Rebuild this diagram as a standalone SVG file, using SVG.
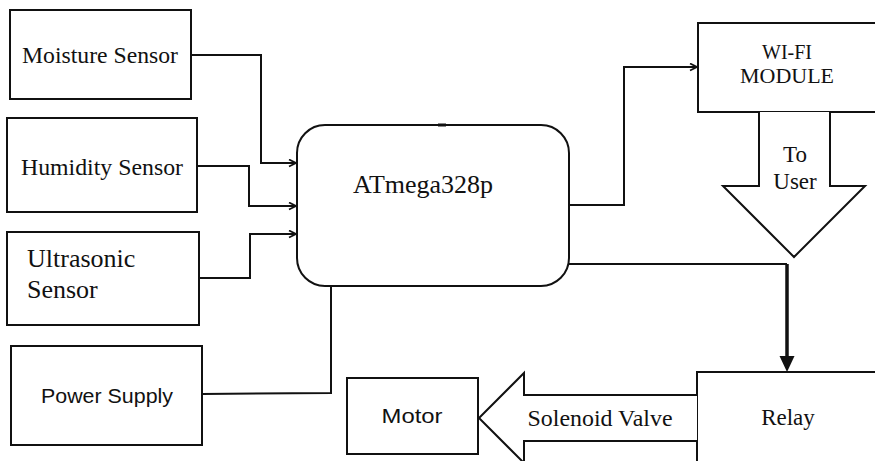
<svg xmlns="http://www.w3.org/2000/svg" width="875" height="461" viewBox="0 0 875 461">
<style>
.box{fill:#fff;stroke:#111;stroke-width:2}
.serif{font-family:'Liberation Serif','DejaVu Serif',serif;fill:#111}
.sans{font-family:'Liberation Sans',Arial,sans-serif;fill:#111}
.conn{fill:none;stroke:#111;stroke-width:2}
.big{fill:#fff;stroke:#111;stroke-width:2;stroke-linejoin:miter}
</style>
<defs>
<marker id="open" markerWidth="10" markerHeight="10" refX="8" refY="4" orient="auto" markerUnits="userSpaceOnUse">
<path d="M1,0.5 L8,4 L1,7.5" fill="none" stroke="#111" stroke-width="1.8"/>
</marker>
</defs>
<rect width="875" height="461" fill="#fff"/>
<g id="connectors">
<path class="conn" d="M191,55 H261 V163 H296" marker-end="url(#open)"/>
<path class="conn" d="M197,166 H249 V206 H296" marker-end="url(#open)"/>
<path class="conn" d="M199,278 H250 V234 H296" marker-end="url(#open)"/>
<path class="conn" d="M202,394 L331,393 V286"/>
<path class="conn" d="M569,205 H624 V67 H697" marker-end="url(#open)"/>
<path class="conn" d="M569,264 H787"/>
<path d="M787,264 V357" fill="none" stroke="#111" stroke-width="3.5"/>
<path d="M779.5,356 L794.5,356 L787,372 Z" fill="#111"/>
</g>
<g id="moisture">
<rect class="box" x="10" y="10" width="181" height="89"/>
<text class="serif" font-family="Liberation Serif, serif" x="100" y="63" font-size="23" text-anchor="middle" textLength="156" lengthAdjust="spacingAndGlyphs">Moisture Sensor</text>
</g>
<g id="humidity">
<rect class="box" x="7" y="118" width="190" height="94"/>
<text class="serif" x="102" y="175" font-size="23" text-anchor="middle" textLength="162" lengthAdjust="spacingAndGlyphs">Humidity Sensor</text>
</g>
<g id="ultrasonic">
<rect class="box" x="7" y="232" width="192" height="93" stroke-width="3"/>
<text class="serif" x="27" y="267" font-size="26">Ultrasonic</text>
<text class="serif" x="27" y="298" font-size="26">Sensor</text>
</g>
<g id="power">
<rect class="box" x="11" y="346" width="191" height="99"/>
<text class="sans" x="107" y="403" font-size="20" text-anchor="middle" textLength="132" lengthAdjust="spacingAndGlyphs">Power Supply</text>
</g>
<g id="atmega">
<rect class="box" x="297" y="125" width="272" height="161" rx="28" ry="28"/>
<line x1="438" y1="125" x2="446" y2="125" stroke="#111" stroke-width="3"/>
<text class="serif" x="423" y="193" font-size="25" text-anchor="middle" textLength="140" lengthAdjust="spacingAndGlyphs">ATmega328p</text>
</g>
<g id="wifi">
<rect class="box" x="698" y="23" width="190" height="89"/>
<text class="serif" x="787" y="59" font-size="20" text-anchor="middle">WI-FI</text>
<text class="serif" x="787" y="83" font-size="20" text-anchor="middle" textLength="94" lengthAdjust="spacingAndGlyphs">MODULE</text>
</g>
<g id="to-user">
<path class="big" d="M759,112 V186 H723 L794,257 L865,186 H830 V112"/>
<text class="serif" x="795" y="162" font-size="23" text-anchor="middle">To</text>
<text class="serif" x="795" y="189" font-size="23" text-anchor="middle">User</text>
</g>
<g id="relay">
<rect class="box" x="697" y="372" width="190" height="100"/>
<text class="serif" x="788" y="425" font-size="23" text-anchor="middle">Relay</text>
</g>
<g id="solenoid">
<path class="big" d="M697,395 H524 V373 L479,418 L524,463 V441 H697"/>
<text class="serif" x="600" y="426" font-size="23" text-anchor="middle" textLength="145" lengthAdjust="spacingAndGlyphs">Solenoid Valve</text>
</g>
<g id="motor">
<rect class="box" x="347" y="378" width="131" height="76"/>
<text class="sans" x="412" y="423" font-size="20" text-anchor="middle" textLength="61" lengthAdjust="spacingAndGlyphs">Motor</text>
</g>
</svg>
